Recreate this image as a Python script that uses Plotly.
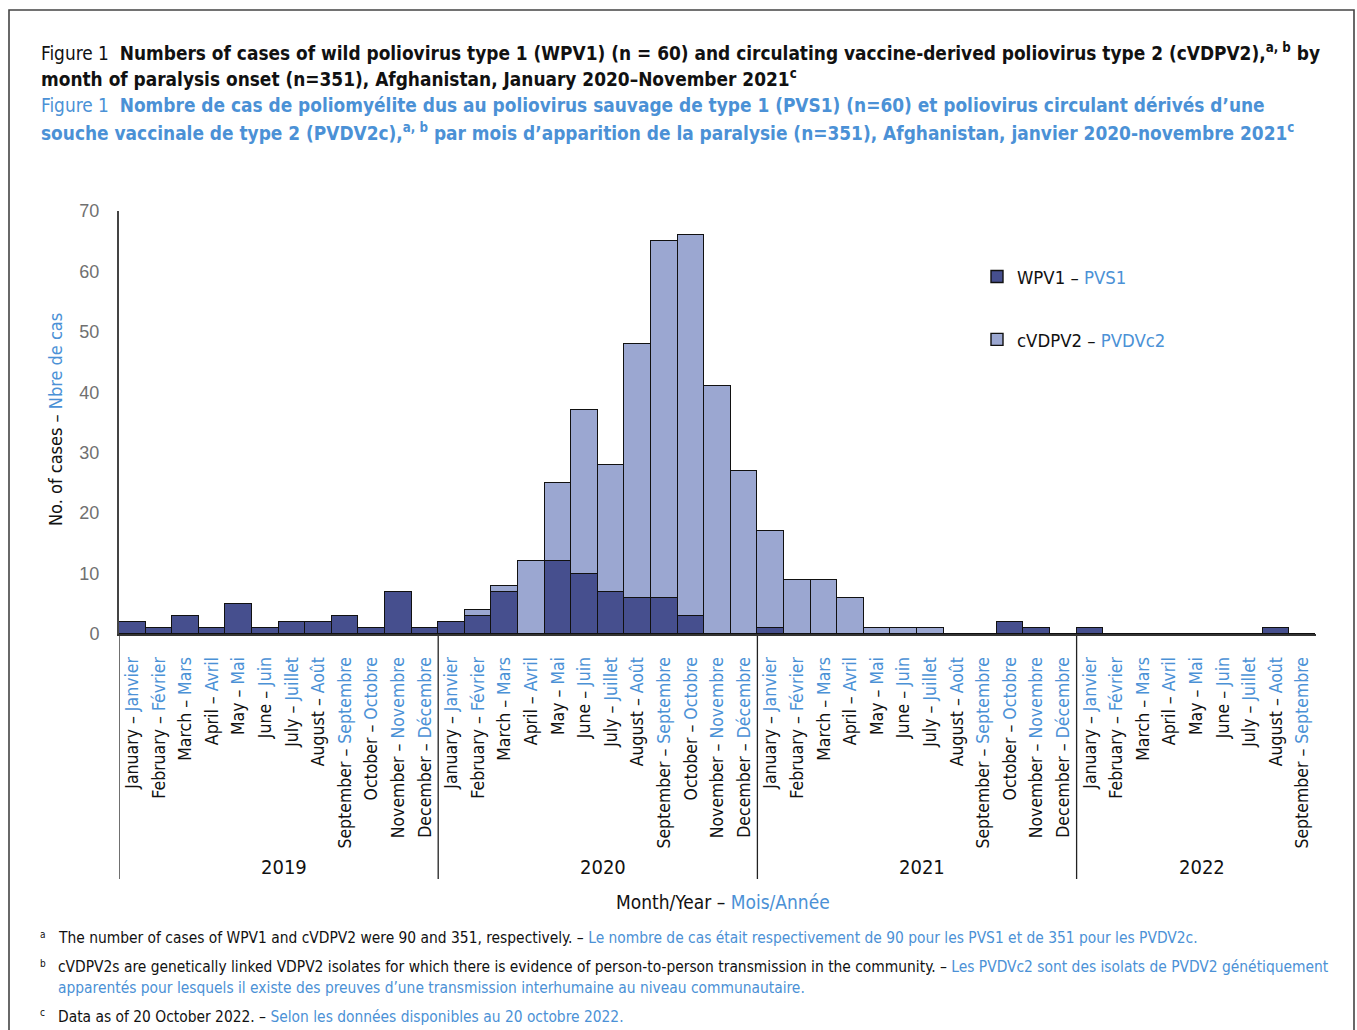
import plotly.graph_objects as go

BLUE = "#4b91d6"
FONT = "DejaVu Sans Condensed, DejaVu Sans, sans-serif"
AXFONT = "Liberation Sans, Arial, sans-serif"

months_en = ["January", "February", "March", "April", "May", "June", "July",
             "August", "September", "October", "November", "December"]
months_fr = ["Janvier", "Février", "Mars", "Avril", "Mai", "Juin", "Juillet",
             "Août", "Septembre", "Octobre", "Novembre", "Décembre"]
years = ["2019", "2020", "2021", "2022"]
months_per_year = [12, 12, 12, 9]

wpv1 = [2, 1, 3, 1, 5, 1, 2, 2, 3, 1, 7, 1,
        2, 3, 7, 0, 12, 10, 7, 6, 6, 3, 0, 0,
        1, 0, 0, 0, 0, 0, 0, 0, 0, 2, 1, 0,
        1, 0, 0, 0, 0, 0, 0, 1, 0]
cvdpv2 = [0, 0, 0, 0, 0, 0, 0, 0, 0, 0, 0, 0,
          0, 1, 1, 12, 13, 27, 21, 42, 59, 63, 41, 27,
          16, 9, 9, 6, 1, 1, 1, 0, 0, 0, 0, 0,
          0, 0, 0, 0, 0, 0, 0, 0, 0]

x_idx = list(range(len(wpv1)))
tick_text = []
for n in months_per_year:
    for m in range(n):
        tick_text.append(f"{months_en[m]} – <span style='color:{BLUE}'>{months_fr[m]}</span>")

# plot geometry (pixels)
W, H = 1357, 1030
L, R, T, B = 119, 1316, 211, 634


def px(xp):
    return (xp - L) / (R - L)


def py(yp):
    return (B - yp) / (B - T)


fig = go.Figure()
fig.add_trace(go.Bar(x=x_idx, y=wpv1, name=f"WPV1 – <span style='color:{BLUE}'>PVS1</span>",
                     marker=dict(color="#464f8e", line=dict(color="#111111", width=1.4)),
                     legendgroup="a"))
fig.add_trace(go.Bar(x=x_idx, y=cvdpv2, name=f"cVDPV2 – <span style='color:{BLUE}'>PVDVc2</span>",
                     marker=dict(color="#9ba7d1", line=dict(color="#111111", width=1.4)),
                     legendgroup="b"))

shapes = []
# outer frame
shapes.append(dict(type="rect", xref="paper", yref="paper", x0=px(9), x1=px(1354), y0=py(1040), y1=py(10),
                   line=dict(color="#444444", width=1.6), fillcolor="rgba(0,0,0,0)", layer="below"))
# year separators
start = 0
for n in months_per_year:
    shapes.append(dict(type="line", xref="x", yref="paper", x0=start - 0.5, x1=start - 0.5,
                       y0=py(636), y1=py(879), line=dict(color="#222222", width=1.3)))
    start += n

annotations = []
start = 0
for yr, n in zip(years, months_per_year):
    annotations.append(dict(x=start + (n - 1) / 2 + 0.2, y=py(867), xref="x", yref="paper", text=yr,
                            showarrow=False, font=dict(family=FONT, size=20, color="#111111"),
                            xanchor="center", yanchor="middle"))
    start += n

# titles
title_lines = [
    (52, "Figure 1 &nbsp;<b>Numbers of cases of wild poliovirus type 1 (WPV1) (n = 60) and circulating vaccine-derived poliovirus type 2 (cVDPV2),<sup>a, b</sup> by</b>", "#111111"),
    (78, "<b>month of paralysis onset (n=351), Afghanistan, January 2020–November 2021<sup>c</sup></b>", "#111111"),
    (105, "Figure 1 &nbsp;<b>Nombre de cas de poliomyélite dus au poliovirus sauvage de type 1 (PVS1) (n=60) et poliovirus circulant dérivés d’une</b>", BLUE),
    (132, "<b>souche vaccinale de type 2 (PVDV2c),<sup>a, b</sup> par mois d’apparition de la paralysie (n=351), Afghanistan, janvier 2020-novembre 2021<sup>c</sup></b>", BLUE),
]
for yp, txt, col in title_lines:
    annotations.append(dict(x=px(39), y=py(yp), xref="paper", yref="paper", text=txt, showarrow=False,
                            xanchor="left", yanchor="middle", font=dict(family=FONT, size=18.9, color=col)))

# axis titles
annotations.append(dict(x=px(55), y=py(420), xref="paper", yref="paper", textangle=-90,
                        text=f"No. of cases – <span style='color:{BLUE}'>Nbre de cas</span>", showarrow=False,
                        xanchor="center", yanchor="middle", font=dict(family=FONT, size=18, color="#111111")))
annotations.append(dict(x=px(723), y=py(902), xref="paper", yref="paper",
                        text=f"Month/Year – <span style='color:{BLUE}'>Mois/Année</span>", showarrow=False,
                        xanchor="center", yanchor="middle", font=dict(family=FONT, size=19, color="#111111")))

# footnotes
notes = [
    (938, "a", f"The number of cases of WPV1 and cVDPV2 were 90 and 351, respectively. – <span style='color:{BLUE}'>Le nombre de cas était respectivement de 90 pour les PVS1 et de 351 pour les PVDV2c.</span>"),
    (967, "b", f"cVDPV2s are genetically linked VDPV2 isolates for which there is evidence of person-to-person transmission in the community. – <span style='color:{BLUE}'>Les PVDVc2 sont des isolats de PVDV2 génétiquement</span>"),
    (988, "", f"<span style='color:{BLUE}'>apparentés pour lesquels il existe des preuves d’une transmission interhumaine au niveau communautaire.</span>"),
    (1017, "c", f"Data as of 20 October 2022. – <span style='color:{BLUE}'>Selon les données disponibles au 20 octobre 2022.</span>"),
]
for yp, sup, txt in notes:
    if sup:
        annotations.append(dict(x=px(38), y=py(yp - 4), xref="paper", yref="paper", text=sup, showarrow=False,
                                xanchor="left", yanchor="middle", font=dict(family=FONT, size=10, color="#111111")))
    annotations.append(dict(x=px(56), y=py(yp), xref="paper", yref="paper", text=txt, showarrow=False,
                            xanchor="left", yanchor="middle", font=dict(family=FONT, size=15.4, color="#111111")))

fig.update_layout(
    width=W, height=H,
    margin=dict(l=L, r=W - R, t=T, b=H - B, pad=0),
    paper_bgcolor="white", plot_bgcolor="white",
    barmode="stack", bargap=0,
    showlegend=True,
    legend=dict(x=px(977), y=py(258), xanchor="left", yanchor="top", traceorder="grouped",
                tracegroupgap=36, font=dict(family=FONT, size=18.4, color="#111111"),
                bgcolor="rgba(0,0,0,0)"),
    shapes=shapes,
    annotations=annotations,
    xaxis=dict(range=[-0.5, len(wpv1) - 0.5], tickmode="array", tickvals=x_idx, ticktext=tick_text,
               tickangle=-90, tickfont=dict(family=FONT, size=17.5, color="#111111"), ticks="",
               ticklabelstandoff=14, showline=True, linecolor="#333333", linewidth=2,
               showgrid=False, zeroline=False, fixedrange=True),
    yaxis=dict(range=[0, 70], tickmode="array", tickvals=[0, 10, 20, 30, 40, 50, 60, 70],
               tickfont=dict(family=AXFONT, size=18, color="#707070"), ticks="",
               ticklabelstandoff=14, showline=True, linecolor="#444444", linewidth=2,
               showgrid=False, zeroline=False, fixedrange=True),
)

fig.write_html("out.html", config={"displayModeBar": False},
               post_script="document.body.style.margin='0';document.body.style.overflow='hidden';")
